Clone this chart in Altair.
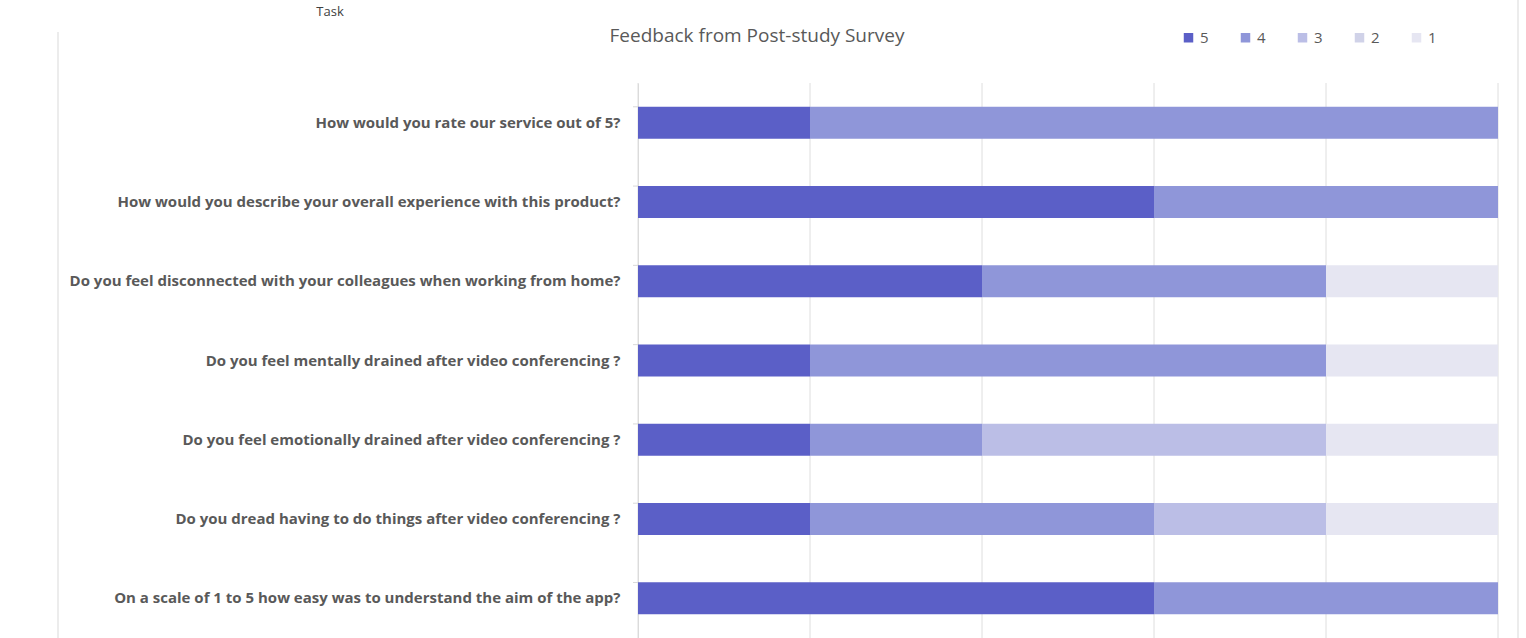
import altair as alt
import pandas as pd

questions = [
    "How would you rate our service out of 5?",
    "How would you describe your overall experience with this product?",
    "Do you feel disconnected with your colleagues when working from home?",
    "Do you feel mentally drained after video conferencing ?",
    "Do you feel emotionally drained after video conferencing ?",
    "Do you dread having to do things after video conferencing ?",
    "On a scale of 1 to 5 how easy was to understand the aim of the app?",
]
ratings = ["5", "4", "3", "2", "1"]
r5 = [1, 3, 2, 1, 1, 1, 3]
r4 = [4, 2, 2, 3, 1, 2, 2]
r3 = [0, 0, 0, 0, 2, 1, 0]
r2 = [0, 0, 0, 0, 0, 0, 0]
r1 = [0, 0, 1, 1, 1, 1, 0]
grid_values = [0, 1, 2, 3, 4, 5]
colors = ["#5b5fc7", "#8f96d9", "#bbbee6", "#d0d2e8", "#e6e6f2"]

rows = []
for i, q in enumerate(questions):
    for k, (lab, vals) in enumerate(zip(ratings, [r5, r4, r3, r2, r1])):
        rows.append({"q": q, "rating": lab, "order": k, "count": vals[i]})
df = pd.DataFrame(rows)

W, H = 860, 555
FONT = "Open Sans"
xscale = alt.Scale(domain=[0, 5], nice=False)

griddf = pd.DataFrame({"v": grid_values})
grid = alt.Chart(griddf).mark_rule(color="#dedede", strokeWidth=1).encode(
    x=alt.X("v:Q", scale=xscale, axis=None),
    y=alt.value(0), y2=alt.value(H),
)

bars = alt.Chart(df).mark_bar(size=32).encode(
    x=alt.X("sum(count):Q", scale=xscale, axis=None),
    y=alt.Y("q:N", sort=questions,
            axis=alt.Axis(title=None, labelFont=FONT, labelFontSize=15, labelFontWeight="bold",
                          labelColor="#595959", labelPadding=18, labelLimit=700,
                          ticks=False, domainColor="#d9d9d9", grid=False)),
    color=alt.Color("rating:N", scale=alt.Scale(domain=ratings, range=colors),
                    legend=alt.Legend(title=None, orient="none", direction="horizontal",
                                      legendX=543, legendY=-53, symbolType="square",
                                      symbolSize=90, symbolStrokeWidth=0, labelFont=FONT,
                                      labelFontSize=15, labelColor="#595959",
                                      columnPadding=29, labelOffset=4)),
    order=alt.Order("order:Q"),
)

tickdf = pd.DataFrame({"q": questions})
ticks = alt.Chart(tickdf).mark_rule(color="#d9d9d9").encode(
    y=alt.Y("q:N", sort=questions, bandPosition=0),
    x=alt.value(-5), x2=alt.value(0),
)

framedf = pd.DataFrame({"x": [-580, 880], "y": [-51, -83], "y2": [H, H]})
frame = alt.Chart(framedf).mark_rule(color="#d9d9d9").encode(
    x=alt.X("x:Q", scale=None), y=alt.Y("y:Q", scale=None), y2="y2:Q",
)

texts = pd.DataFrame({
    "t": ["Feedback from Post-study Survey", "Task"],
    "x": [119, -308], "y": [-41, -67],
})
title = alt.Chart(texts.iloc[[0]]).mark_text(font=FONT, fontSize=19, color="#595959",
                                              align="center", baseline="alphabetic").encode(
    x=alt.X("x:Q", scale=None), y=alt.Y("y:Q", scale=None), text="t:N")
task = alt.Chart(texts.iloc[[1]]).mark_text(font=FONT, fontSize=13, color="#404040",
                                             align="center", baseline="alphabetic").encode(
    x=alt.X("x:Q", scale=None), y=alt.Y("y:Q", scale=None), text="t:N")

chart = alt.layer(grid, bars, ticks, frame, title, task).properties(
    width=W, height=H,
    autosize=alt.AutoSizeParams(type="none"),
    padding={"left": 638, "top": 83, "right": 28, "bottom": 0},
).configure_view(stroke=None).configure_scale(bandPaddingInner=0.6, bandPaddingOuter=0.3)

chart.save("out.html", embed_options={"renderer": "svg", "actions": False})
